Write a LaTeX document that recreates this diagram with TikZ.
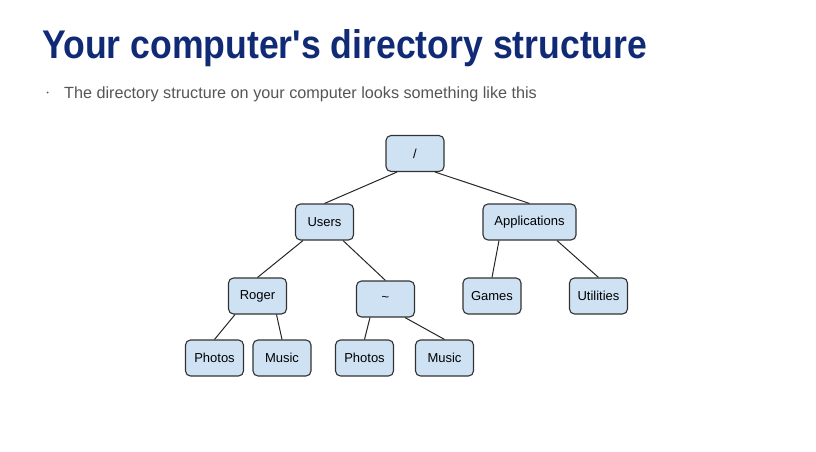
\documentclass[tikz,border=0pt]{standalone}
\usepackage{fontspec}
\setmainfont{Liberation Sans}
\usepackage{xcolor}
\definecolor{titleblue}{RGB}{16,42,118}
\definecolor{boxfill}{RGB}{207,226,243}
\definecolor{boxline}{RGB}{50,50,50}
\definecolor{subgray}{RGB}{85,85,85}

\begin{document}
\begin{tikzpicture}[x=1pt,y=-1pt,
    dirbox/.style={draw=boxline,fill=boxfill,rounded corners=5pt,line width=1.1pt,
      minimum width=58pt,minimum height=36pt,inner sep=2pt,font=\fontsize{13}{15}\selectfont},
    edge/.style={draw=black!85,line width=1pt}]
    \useasboundingbox (0,0) rectangle (816,452);

    % heading
    \node[anchor=base west,inner sep=0pt,text=titleblue,xscale=0.89,
      font=\fontsize{40}{46}\selectfont\bfseries]
      (title) at (42,59) {Your computer\textquotesingle s directory structure};
    \node[anchor=base west,inner sep=0pt,text=subgray,font=\fontsize{16.2}{19}\selectfont]
      (sub) at (64,98) {The directory structure on your computer looks something like this};
    \fill[subgray] (47.5,92.5) circle (1pt);

    % tree
    \node[dirbox] (root) at (415,153.5) {/};
    \node[dirbox] (users) at (324.5,222) {Users};
    \node[dirbox,minimum width=93pt] (apps) at (529.5,222) {Applications};
    \node[dirbox] (roger) at (257.5,296) {Roger};
    \node[dirbox] (home) at (385.5,299) {\raisebox{-0.7ex}{\textasciitilde}};
    \node[dirbox] (games) at (492,296) {Games};
    \node[dirbox] (utils) at (598.5,296) {Utilities};
    \node[dirbox] (photosa) at (214.5,358) {Photos};
    \node[dirbox] (musica) at (282,358) {Music};
    \node[dirbox] (photosb) at (364.5,358) {Photos};
    \node[dirbox] (musicb) at (444.5,358) {Music};

    \draw[edge] ([xshift=-18pt]root.south) -- (users.north);
    \draw[edge] ([xshift=20pt]root.south) -- (apps.north);
    \draw[edge] ([xshift=-21.5pt]users.south) -- (roger.north);
    \draw[edge] ([xshift=18.5pt]users.south) -- (home.north);
    \draw[edge] ([xshift=-30.5pt]apps.south) -- (games.north);
    \draw[edge] ([xshift=27.5pt]apps.south) -- (utils.north);
    \draw[edge] ([xshift=-22.5pt]roger.south) -- (photosa.north);
    \draw[edge] ([xshift=19pt]roger.south) -- (musica.north);
    \draw[edge] ([xshift=-15.5pt]home.south) -- (photosb.north);
    \draw[edge] ([xshift=19.5pt]home.south) -- (musicb.north);
\end{tikzpicture}
\end{document}
